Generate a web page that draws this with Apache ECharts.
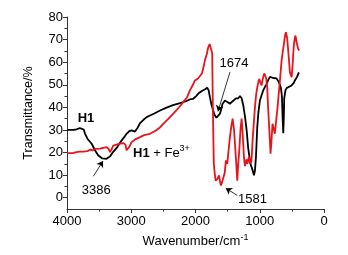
<!DOCTYPE html>
<html>
<head>
<meta charset="utf-8">
<script src="https://cdn.jsdelivr.net/npm/echarts@6/dist/echarts.min.js"></script>
<style>
  html, body { margin: 0; padding: 0; background: #fff; }
  #charts { width: 348px; height: 255px; }
</style>
</head>
<body>
<div id="charts"></div>
<script>
// H1 spectrum: [wavenumber, transmittance]
var h1Data = [
  [4000, 30], [3900, 30], [3850, 30.3], [3800, 30.8], [3770, 31.2], [3740, 30.2],
  [3720, 28.4], [3680, 26], [3616, 23.9], [3560, 20.8], [3513, 18.7], [3450, 17.4],
  [3386, 17.2], [3330, 18.3], [3284, 20.2], [3220, 22.3], [3149, 25.4], [3100, 27.2],
  [3073, 28.3], [3030, 29.5], [2995, 29.8], [2942, 29.3], [2900, 31], [2866, 32.9],
  [2810, 34.5], [2760, 35.7], [2700, 36.5], [2640, 37.3], [2553, 38.6], [2450, 39.9],
  [2350, 41], [2242, 41.9], [2150, 42.7], [2080, 43.6], [2036, 43.8], [1990, 45],
  [1950, 46.3], [1900, 47.2], [1850, 48], [1818, 48.7], [1795, 47.5], [1776, 44.5],
  [1750, 41], [1725, 38.6], [1700, 36.5], [1674, 35.4], [1650, 36], [1620, 37.2],
  [1600, 39], [1580, 41.5], [1542, 43], [1510, 42.5], [1490, 41.8], [1464, 41.6],
  [1430, 42.5], [1400, 43.2], [1370, 44], [1335, 44], [1308, 45], [1282, 44],
  [1256, 40.8], [1230, 36], [1204, 29.8], [1180, 22], [1160, 18], [1140, 14.5],
  [1126, 13.5], [1110, 12], [1090, 9.9], [1075, 12], [1059, 18], [1039, 31.2],
  [1020, 38], [997, 43.1], [970, 45.5], [946, 47.5], [920, 49], [892, 50.4],
  [870, 52], [841, 53.5], [810, 54], [790, 53], [760, 52.6], [738, 52.8],
  [710, 51.5], [686, 50], [670, 48.5], [655, 45], [645, 36], [634, 28.5],
  [625, 36], [619, 44], [600, 47.5], [582, 48.5], [550, 49], [504, 49.7],
  [470, 50.8], [453, 51.9], [420, 53.5], [391, 55.5]
];

// H1 + Fe3+ spectrum
var h1FeData = [
  [4000, 19.7], [3900, 19.8], [3850, 20.2], [3800, 20.4], [3770, 21], [3750, 20.4],
  [3720, 21], [3680, 20.6], [3640, 21.3], [3600, 21], [3560, 21.6], [3487, 21.7],
  [3420, 22.2], [3383, 22.4], [3350, 21.5], [3331, 20.2], [3300, 21.8], [3280, 23.1],
  [3220, 23.6], [3160, 24], [3124, 24.2], [3090, 23.5], [3073, 21], [3055, 20.2],
  [3030, 22.5], [2995, 24.6], [2940, 25.8], [2864, 26.8], [2800, 27.7], [2709, 28.3],
  [2650, 29.2], [2605, 30], [2550, 31.2], [2502, 32.7], [2420, 35], [2346, 37.2],
  [2270, 39.5], [2190, 42.3], [2130, 44.5], [2087, 47.5], [2040, 50], [2009, 51.9],
  [1960, 52.8], [1931, 53.4], [1900, 55], [1870, 58.5], [1853, 60.8], [1825, 63.5],
  [1802, 66.6], [1780, 68], [1765, 68.8], [1750, 67.5], [1740, 64], [1730, 40],
  [1715, 15], [1700, 10.6], [1685, 7.5], [1672, 6.9], [1655, 8.5], [1635, 9.9],
  [1620, 7.5], [1604, 5.4], [1590, 6.5], [1581, 6], [1568, 6.9], [1545, 11],
  [1527, 16.5], [1506, 15], [1485, 21], [1464, 26.8], [1440, 32], [1422, 35],
  [1400, 30], [1386, 23.9], [1370, 17], [1350, 7.5], [1335, 15], [1319, 20.9],
  [1300, 30], [1282, 35], [1265, 28], [1246, 18], [1230, 14], [1219, 15.5],
  [1205, 17], [1194, 15], [1180, 15.5], [1168, 18], [1152, 15], [1130, 16],
  [1111, 25.4], [1090, 34], [1075, 40], [1055, 46], [1039, 48.7], [1020, 51.5],
  [1008, 52.6], [990, 51], [971, 49.7], [960, 51.5], [946, 53.4], [930, 55],
  [920, 55.6], [900, 53], [884, 48.9], [870, 40], [853, 31.2], [840, 24],
  [832, 19.5], [820, 24], [801, 32.7], [785, 31], [765, 28.3], [745, 34],
  [723, 40], [705, 46], [686, 51.9], [660, 60.7], [640, 65], [624, 68.1],
  [605, 72], [593, 73.3], [575, 71], [557, 65.2], [540, 59], [531, 55.6],
  [504, 53.4], [490, 58], [478, 64], [468, 68.1], [447, 71.8], [435, 70.5],
  [427, 68.8], [402, 65.9], [386, 65.2]
];

var yMajorTicks = [0, 10, 20, 30, 40, 50, 60, 70, 80];
var yMinorTicks = [5, 15, 25, 35, 45, 55, 65, 75];

// peak labels and arrows (data coords)
var peakTexts = [
  { name: "3386", coord: [3544, 3.2] },
  { name: "1674", coord: [1401, 59.3] },
  { name: "1581", coord: [1114, -0.8] }
];
var peakArrows = [
  [[3590, 9.5], [3440, 16.2]],
  [[1464, 55.6], [1650, 38.2]],
  [[1350, 1.0], [1528, 4.2]]
];

var font = "Liberation Sans";
var charts = echarts.init(document.getElementById("charts"));

function textMark(name, coord, fmt) {
  return {
    name: name,
    coord: coord,
    symbol: "circle",
    symbolSize: 1,
    itemStyle: { color: "rgba(0,0,0,0)" },
    label: {
      show: true,
      position: "inside",
      color: "#000",
      fontFamily: font,
      fontSize: 13,
      formatter: fmt || name,
      rich: {
        b: { fontWeight: "bold", fontSize: 13, fontFamily: font, color: "#000" },
        s: { fontSize: 9, fontFamily: font, color: "#000", padding: [0, 0, 9, 0] }
      }
    }
  };
}

var option = {
  animation: false,
  grid: { left: 67, right: 24, top: 17, bottom: 46 },
  xAxis: {
    type: "value",
    min: 0,
    max: 4000,
    interval: 1000,
    inverse: true,
    name: "Wavenumber/cm{s|-1}",
    nameLocation: "middle",
    nameGap: 22,
    nameTextStyle: {
      fontFamily: font, fontSize: 13, color: "#000",
      rich: { s: { fontFamily: font, fontSize: 9, color: "#000", padding: [0, 0, 9, 0] } }
    },
    axisLine: { onZero: false, lineStyle: { color: "#333", width: 1 } },
    axisTick: { length: 4, lineStyle: { color: "#333" } },
    minorTick: { show: true, splitNumber: 2, length: 2.5, lineStyle: { color: "#333" } },
    axisLabel: {
      fontFamily: font, fontSize: 13, color: "#000", margin: 6,
      formatter: function (v) { return String(v); }
    },
    splitLine: { show: false }
  },
  yAxis: [
    {
      type: "value",
      min: -5,
      max: 80,
      name: "Transmittance/%",
      nameLocation: "middle",
      nameGap: 32,
      nameTextStyle: { fontFamily: font, fontSize: 12.5, color: "#000" },
      axisLine: { show: true, onZero: false, lineStyle: { color: "#333", width: 1 } },
      axisTick: { show: true, length: 4, customValues: yMajorTicks, lineStyle: { color: "#333" } },
      axisLabel: { fontFamily: font, fontSize: 13, color: "#000", margin: 4, customValues: yMajorTicks },
      splitLine: { show: false }
    },
    {
      // short minor ticks
      type: "value",
      min: -5,
      max: 80,
      position: "left",
      axisLine: { show: false, onZero: false },
      axisTick: { show: true, length: 2.5, customValues: yMinorTicks, lineStyle: { color: "#333" } },
      axisLabel: { show: false },
      splitLine: { show: false }
    }
  ],
  series: [
    {
      name: "H1",
      type: "line",
      data: h1Data,
      showSymbol: false,
      lineStyle: { color: "#000", width: 1.8 },
      markPoint: {
        silent: true,
        data: [textMark("H1", [3704, 35.1], "{b|H1}")]
          .concat(peakTexts.map(function (p) { return textMark(p.name, p.coord); }))
      },
      markLine: {
        silent: true,
        symbol: ["none", "arrow"],
        symbolSize: 6,
        label: { show: false },
        lineStyle: { color: "#000", width: 0.8, type: "solid" },
        data: peakArrows.map(function (a) {
          return [{ coord: a[0] }, { coord: a[1] }];
        })
      }
    },
    {
      name: "H1 + Fe3+",
      type: "line",
      data: h1FeData,
      showSymbol: false,
      lineStyle: { color: "#e8141b", width: 1.8 },
      markPoint: {
        silent: true,
        data: [textMark("H1 + Fe3+", [2530, 19.7], "{b|H1} + Fe{s|3+}")]
      }
    }
  ]
};

charts.setOption(option);
</script>
</body>
</html>
